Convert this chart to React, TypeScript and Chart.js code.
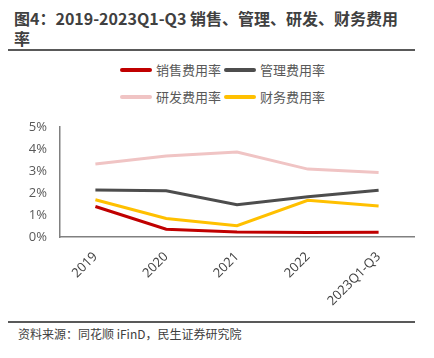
import React, { useEffect, useRef } from "react";
import { Chart, registerables } from "chart.js";

Chart.register(...registerables);

const categories = ["2019", "2020", "2021", "2022", "2023Q1-Q3"];
const salesRate = [1.39, 0.36, 0.23, 0.21, 0.22];
const adminRate = [2.14, 2.11, 1.47, 1.83, 2.13];
const rdRate = [3.32, 3.68, 3.86, 3.09, 2.93];
const financeRate = [1.7, 0.85, 0.52, 1.67, 1.42];
const yTicks = ["0%", "1%", "2%", "3%", "4%", "5%"];

const seriesNames = ["销售费用率", "管理费用率", "研发费用率", "财务费用率"];
const seriesColors = ["#C00000", "#4D4D4D", "#F0C4C4", "#FFC000"];

const FONT = '"Noto Sans CJK SC", "Noto Sans", sans-serif';
const TICK_FONT = '"Open Sans", "Noto Sans", sans-serif';

export default function App() {
  const canvasRef = useRef<HTMLCanvasElement | null>(null);

  useEffect(() => {
    if (!canvasRef.current) return;
    const values = [salesRate, adminRate, rdRate, financeRate];
    const chart = new Chart(canvasRef.current, {
      type: "line",
      data: {
        labels: categories,
        datasets: values.map((v, i) => ({
          label: seriesNames[i],
          data: v,
          borderColor: seriesColors[i],
          backgroundColor: seriesColors[i],
          borderWidth: 3,
          pointRadius: 0,
          tension: 0,
          fill: false,
          order: i === 2 ? 4 : i,
        })),
      },
      options: {
        animation: false,
        responsive: true,
        maintainAspectRatio: false,
        layout: { padding: { top: 22, right: 1, left: 0, bottom: 0 } },
        plugins: {
          legend: { display: false },
          tooltip: { enabled: false },
        },
        scales: {
          x: {
            offset: true,
            grid: { display: false, drawTicks: false },
            border: { display: true, color: "#808080", width: 1.5 },
            ticks: {
              minRotation: 45,
              maxRotation: 45,
              padding: 12,
              color: "#404040",
              font: { family: TICK_FONT, size: 13 },
            },
          },
          y: {
            min: 0,
            max: 5,
            grid: { display: false, drawTicks: false },
            border: { display: true, color: "#808080", width: 1.5 },
            afterFit: (scale: any) => {
              scale.width = 52;
            },
            ticks: {
              stepSize: 1,
              padding: 13,
              color: "#595959",
              font: { family: TICK_FONT, size: 13 },
              callback: (_v: any, idx: number) => yTicks[idx],
            },
          },
        },
      },
    });
    return () => chart.destroy();
  }, []);

  const legendItem = (i: number) => (
    <div key={i} style={{ display: "flex", alignItems: "center", marginRight: 3 }}>
      <div
        style={{
          width: 32,
          height: 4,
          borderRadius: 2,
          background: seriesColors[i],
          marginRight: 4,
        }}
      />
      <span style={{ fontSize: 13, color: "#595959", lineHeight: "16px" }}>{seriesNames[i]}</span>
    </div>
  );

  return (
    <div style={{ position: "relative", width: 407, height: 342, fontFamily: FONT }}>
      <div
        style={{
          position: "absolute",
          top: 0,
          left: 0,
          width: 407,
          height: 41,
          boxSizing: "content-box",
          borderBottom: "2px solid #595959",
        }}
      >
        <div
          style={{
            padding: "0 6px",
            fontSize: 16,
            fontWeight: "bold",
            lineHeight: "20px",
            color: "#404040",
          }}
        >
          图4：2019-2023Q1-Q3 销售、管理、研发、财务费用率
        </div>
      </div>
      <div style={{ position: "absolute", top: 54, left: 112, display: "flex", flexDirection: "column", gap: 11 }}>
        <div style={{ display: "flex" }}>{[0, 1].map(legendItem)}</div>
        <div style={{ display: "flex" }}>{[2, 3].map(legendItem)}</div>
      </div>
      <div style={{ position: "absolute", top: 97, left: 0, width: 407, height: 216 }}>
        <canvas ref={canvasRef} />
      </div>
      <div
        style={{
          position: "absolute",
          top: 313,
          left: 0,
          width: 407,
          borderTop: "2px solid #595959",
        }}
      />
      <div
        style={{
          position: "absolute",
          top: 318,
          left: 10,
          fontSize: 12,
          color: "#404040",
          lineHeight: "16px",
        }}
      >
        资料来源：同花顺 iFinD，民生证券研究院
      </div>
    </div>
  );
}
